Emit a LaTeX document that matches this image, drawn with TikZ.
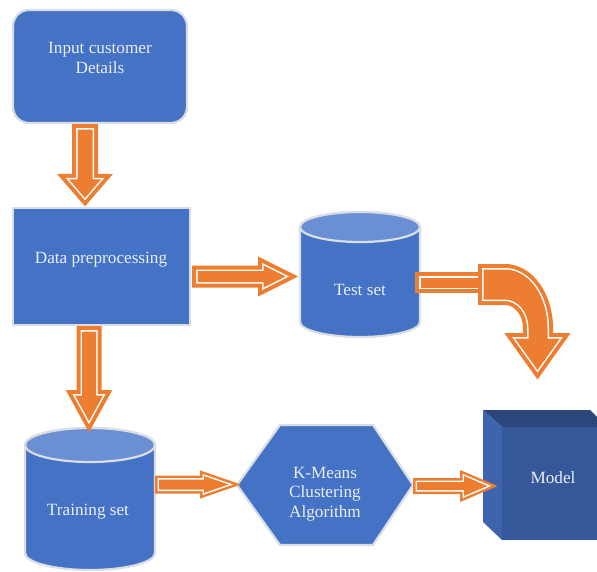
\documentclass[tikz,border=0pt]{standalone}
\usepackage{fontspec}
\setmainfont{Liberation Serif}
\usetikzlibrary{calc}
\definecolor{blu}{RGB}{68,114,196}
\definecolor{blutop}{RGB}{106,143,210}
\definecolor{orng}{RGB}{237,125,49}
\definecolor{rim}{RGB}{218,221,227}
\definecolor{txt}{RGB}{234,238,246}
\definecolor{mfront}{RGB}{53,88,154}
\definecolor{mside}{RGB}{62,100,173}
\definecolor{mtop}{RGB}{42,70,122}
\tikzset{
  lbl/.style={text=txt, font=\fontsize{17.2}{19.5}\selectfont, align=center, inner sep=0pt},
  blockbox/.style={fill=blu, draw=rim, line width=2.2pt, line join=miter},
  blockarr/.style={fill=orng, draw=orng, line width=#1, line join=miter, miter limit=20,
    postaction={draw=white, line width=3pt, line join=miter, miter limit=20},
    postaction={fill=orng}},
}
% #1 border width, #2 tail, #3 tip, #4 shaft half width, #5 head half width, #6 head length
\newcommand{\blockarrow}[6]{%
  \coordinate (hb) at ($(#3)!#6pt!(#2)$);
  \path[blockarr=#1] ($(#2)!#4pt!90:(#3)$) -- ($(hb)!#4pt!90:(#3)$) -- ($(hb)!#5pt!90:(#3)$)
    -- (#3) -- ($(hb)!#5pt!-90:(#3)$) -- ($(hb)!#4pt!-90:(#3)$) -- ($(#2)!#4pt!-90:(#3)$) -- cycle;
}
% #1 left x, #2 right x, #3 top y, #4 bottom y, #5 ry
\newcommand{\cylshape}[5]{%
  \pgfmathsetmacro\crx{(#2-#1)/2}%
  \pgfmathsetmacro\ccx{(#2+#1)/2}%
  \path[blockbox] (#1,#3+#5) -- (#1,#4-#5)
    arc[start angle=180, end angle=0, x radius=\crx, y radius=#5]
    -- (#2,#3+#5) arc[start angle=0, end angle=-180, x radius=\crx, y radius=#5] -- cycle;
  \path[fill=blutop, draw=rim, line width=2.2pt] (\ccx,#3+#5) ellipse[x radius=\crx, y radius=#5];
}
\begin{document}
\begin{tikzpicture}[x=1pt,y=-1pt]
\useasboundingbox (0,0) rectangle (597,572);
\clip (0,0) rectangle (597,572);

% input box
\node[blockbox, rounded corners=16pt, minimum width=174pt, minimum height=113pt, inner sep=0pt] (inp) at (100,66.5) {};
\node[lbl] (inptxt) at (100,58) {Input customer\\Details};

% data preprocessing
\node[blockbox, minimum width=177pt, minimum height=117pt, inner sep=0pt] (dat) at (101.5,266.5) {};
\node[lbl] (dattxt) at (101,260) {Data preprocessing};

% test set
\cylshape{300}{420}{212}{337}{15}
\node[lbl] (tst) at (360,290) {Test set};
\coordinate (tstL) at (285.7,276.5);
\coordinate (tstR) at (420.5,282.5);

% training set
\cylshape{25}{155}{428}{570}{17}
\node[lbl] (trn) at (88,512) {Training set};
\coordinate (trnT) at (89,421);
\coordinate (trnR) at (159,484.5);

% k-means
\path[blockbox] (237,485) -- (280,425) -- (373,425) -- (413,485) -- (373,545) -- (280,545) -- cycle;
\node[lbl] (kmc) at (325,494) {K-Means\\Clustering\\Algorithm};
\coordinate (kmcL) at (228.6,484.5);
\coordinate (kmcR) at (417,486);

% model box
\path[fill=mtop] (483,410) -- (590,410) -- (607,427) -- (502,427) -- cycle;
\path[fill=mside] (483,410) -- (502,427) -- (502,540) -- (483,522) -- cycle;
\path[fill=mfront] (502,427) rectangle (607,540);
\node[lbl] (mdl) at (553,478) {Model};
\coordinate (mdlL) at (487.4,486);

% arrows
\coordinate (a1t) at ($(inp.south)+(-15,5.5)$);
\coordinate (a1h) at ($(dat.north)+(-16.5,-9)$);
\blockarrow{11pt}{a1t}{a1h}{7.5}{16}{18.5}
\coordinate (a2t) at ($(dat.south)+(-12.5,5.5)$);
\blockarrow{11pt}{a2t}{trnT}{7}{14}{25.5}
\coordinate (a3t) at ($(dat.east)+(6.5,10)$);
\blockarrow{11pt}{a3t}{tstL}{5.5}{11}{22}
\blockarrow{8pt}{trnR}{kmcL}{5}{8.5}{24.6}
\blockarrow{8pt}{kmcR}{mdlL}{4}{10}{23.4}

% bent arrow from test set
\path[blockarr=11pt] ($(tstR)+(0,-5)$) rectangle ($(tstR)+(65.5,5)$);
\path[blockarr=11pt] (483.5,269.5) -- (505,269.5)
  arc[start angle=-90, end angle=0, x radius=42.5, y radius=58.5]
  -- (547.5,338.5) -- (560,338.5) -- (537.5,370) -- (515,338.5) -- (528.5,338.5) -- (528.5,328)
  arc[start angle=0, end angle=-90, x radius=23.5, y radius=28.5]
  -- (483.5,299.5) -- cycle;
\end{tikzpicture}
\end{document}
